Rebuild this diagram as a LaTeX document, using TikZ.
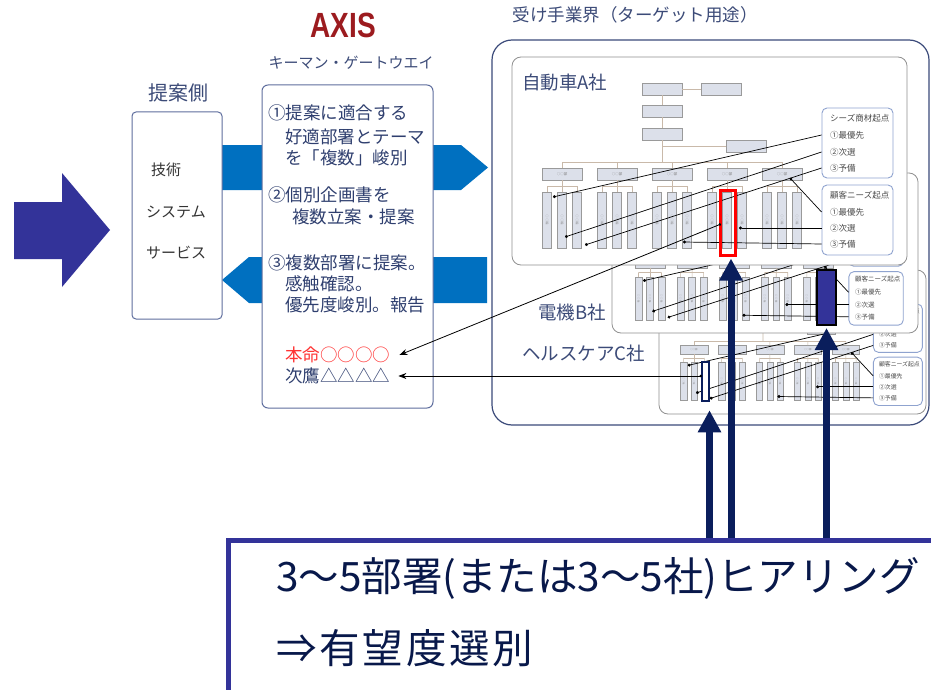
\documentclass[tikz,border=0pt]{standalone}
\usepackage{fontspec}
\setmainfont{Noto Sans CJK JP}
\newfontfamily\axisfont{Liberation Sans}
\usetikzlibrary{arrows.meta, positioning}

\definecolor{heavypurple}{HTML}{333399}
\definecolor{bandblue}{HTML}{0070C0}
\definecolor{axisred}{HTML}{9C1B1F}
\definecolor{slate}{HTML}{3C4B78}
\definecolor{steptxt}{HTML}{2F3F6F}
\definecolor{boxline}{HTML}{5F6E9E}
\definecolor{outerline}{HTML}{3B4A7A}
\definecolor{firmgray}{HTML}{909090}
\definecolor{orgfill}{HTML}{DCE0EA}
\definecolor{orggray}{HTML}{9A9A9A}
\definecolor{orgtan}{HTML}{C9B9A9}
\definecolor{legblue}{HTML}{8FA3CF}
\definecolor{leggray}{HTML}{4A4A4A}
\definecolor{navyarrow}{HTML}{0A1E5C}
\definecolor{honmeired}{HTML}{FF3333}

\tikzset{
  orgbox/.style={draw=orggray, fill=orgfill, minimum width=40pt, minimum height=12pt,
    inner sep=0pt, font=\fontsize{3.5}{4}\selectfont, text=gray},
  orgcol/.style={draw=orggray, fill=orgfill, minimum width=9pt, minimum height=56pt,
    inner sep=0pt, align=center, font=\fontsize{3}{3.6}\selectfont, text=gray},
  orgline/.style={draw=orgtan, line width=0.6pt},
  legbox/.style={draw=legblue, line width=0.9pt, rounded corners=5pt, fill=white,
    minimum width=71pt, minimum height=70pt},
  legtext/.style={anchor=west, inner sep=0pt, font=\fontsize{8.5}{9}\selectfont, text=leggray},
  pick/.style={line width=0.7pt, -{Circle[length=3pt]}},
  firmbox/.style={draw=firmgray, line width=0.8pt, fill=white, rounded corners=9pt},
  firmlabel/.style={anchor=west, inner sep=0pt, text=slate, font=\fontsize{18.5}{20}\selectfont},
  steptext/.style={anchor=west, inner sep=0pt, text=steptxt, font=\fontsize{17.5}{20}\selectfont},
  sidetext/.style={anchor=west, inner sep=0pt, text=black!80, font=\fontsize{15}{17}\selectfont},
  report/.style={line width=0.8pt, {Circle[length=2.5pt]}-{Stealth[length=8pt, width=6pt]}},
  bigarrow/.style={draw=navyarrow, line width=7pt, -{Triangle[length=22pt, width=22pt]}},
  hearingtext/.style={anchor=west, inner sep=0pt, text=navyarrow!80!black, font=\fontsize{40.5}{44}\selectfont}
}

% one organisation chart, local origin = first column top
\newcommand{\orgchart}[1]{%
  \node[orgbox] (#1board) at (100,-103) {};
  \node[orgbox] (#1audit) at (159.5,-103) {};
  \node[orgbox] (#1exec)  at (100,-81) {};
  \node[orgbox] (#1mgmt)  at (100,-58) {};
  \node[orgbox] (#1staff) at (184.5,-46) {};
  \draw[orgline] (#1board) -- (#1audit);
  \draw[orgline] (#1board) -- (#1exec);
  \draw[orgline] (#1exec) -- (#1mgmt);
  \draw[orgline] (#1mgmt) -- (100,-30);
  \draw[orgline] (#1staff.west) -- (#1staff.west -| #1mgmt.south);
  \draw[orgline] (0,-30) -- (220,-30);
  \foreach \ia in {1,...,5} {
    \pgfmathsetmacro\cx{55*(\ia-1)}
    \node[orgbox] (#1dept\ia) at (\cx,-18) {○○部};
    \draw[orgline] (\cx,-30) -- (#1dept\ia.north);
    \draw[orgline] (#1dept\ia.south) -- (\cx,-6);
    \draw[orgline] ({\cx-15},-6) -- ({\cx+15},-6);
    \foreach \ib in {1,2,3} {
      \node[orgcol] (#1col\ia\ib) at ({\cx+15*(\ib-2)},28) {○\\○\\部};
      \draw[orgline] ({\cx+15*(\ib-2)},-6) -- (#1col\ia\ib.north);
    }
  }
  % legends
  \node[legbox] (#1seeds) at (295.5,-49) {};
  \node[legtext] (#1s0) at (268,-74) {シーズ商材起点};
  \node[legtext] (#1s1) at (268,-57) {①最優先};
  \node[legtext] (#1s2) at (268,-40) {②次選};
  \node[legtext] (#1s3) at (268,-24) {③予備};
  \node[legbox] (#1needs) at (295.5,28) {};
  \node[legtext] (#1n0) at (268,3) {顧客ニーズ起点};
  \node[legtext] (#1n1) at (268,20) {①最優先};
  \node[legtext] (#1n2) at (268,36) {②次選};
  \node[legtext] (#1n3) at (268,52) {③予備};
  \coordinate (#1pickS1) at (-9,5);
  \coordinate (#1pickS2) at (3,45);
  \coordinate (#1pickS3) at (23,53);
  \coordinate (#1pickN1) at (228,-14);
  \coordinate (#1pickN2) at (177,36);
  \coordinate (#1pickN3) at (121,50);
  \foreach \ia in {1,2,3} {
    \draw[pick] (#1seeds.west |- #1s\ia) -- (#1pickS\ia);
    \draw[pick] (#1needs.west |- #1n\ia) -- (#1pickN\ia);
  }
}

\begin{document}
\begin{tikzpicture}[x=1pt, y=-1pt]
  \useasboundingbox[fill=white] (0,0) rectangle (931,690);

  % big arrow on the left
  \fill[heavypurple] (14,202) -- (62,202) -- (62,173) -- (110,230) -- (62,287)
    -- (62,259) -- (14,259) -- cycle;

  % blue bands between the boxes
  \fill[bandblue] (222,145) -- (461,145) -- (488,167.5) -- (461,190) -- (222,190) -- cycle;
  \fill[bandblue] (222,280) -- (249,257) -- (487,257) -- (487,303) -- (249,303) -- cycle;

  % proposer side
  \node[text=slate, font=\fontsize{20}{22}\selectfont] (sideTitle) at (178,93) {提案側};
  \node[draw=boxline, line width=1pt, rounded corners=4pt, fill=white,
    minimum width=90pt, minimum height=207pt] (side) at (177,215.5) {};
  \node[sidetext] (tech) at (151,170) {技術};
  \node[sidetext] (system) at (146,212) {システム};
  \node[sidetext] (service) at (146,253) {サービス};

  % AXIS box
  \node[text=axisred, font=\axisfont\bfseries\fontsize{35}{36}\selectfont, xscale=0.8] (axis) at (343,25) {AXIS};
  \node[text=slate, font=\fontsize{15}{17}\selectfont] (keyman) at (351,63) {キーマン・ゲートウエイ};
  \node[draw=boxline, line width=1pt, rounded corners=6pt, fill=white,
    minimum width=171pt, minimum height=323pt] (axisbox) at (347.5,246.5) {};
  \foreach \txt/\xx/\yy [count=\i] in {①提案に適合する/268/113, 好適部署とテーマ/285/137,
      を「複数」峻別/285/158, ②個別企画書を/268/195, 複数立案・提案/292/217,
      ③複数部署に提案。/268/263, 感触確認。/285/284, 優先度峻別。報告/285/305}
    \node[steptext] (plan\i) at (\xx,\yy) {\txt};
  \node[steptext, text=honmeired] (honmei) at (285,355) {本命○○○○};
  \node[steptext] (jitaka) at (285,376) {次鷹△△△△};

  % target industry
  \node[text=slate, font=\fontsize{17.5}{19}\selectfont] (target) at (635,15) {受け手業界（ターゲット用途）};
  \node[draw=outerline, line width=1.2pt, rounded corners=20pt,
    minimum width=437pt, minimum height=385pt] (industry) at (710.5,232.5) {};

  % company C
  \node[firmbox, minimum width=267pt, minimum height=144pt] (firmC) at (792.5,342) {};
  \begin{scope}[shift={(694,362)}, scale=0.69, transform shape]
    \orgchart{C}
  \end{scope}
  % company B
  \node[firmbox, minimum width=306pt, minimum height=160pt] (firmB) at (765,253) {};
  \begin{scope}[shift={(650,277)}, scale=0.765, transform shape]
    \orgchart{B}
  \end{scope}
  % company A
  \node[firmbox, minimum width=395pt, minimum height=208pt] (firmA) at (709.5,161) {};
  \begin{scope}[shift={(562,192)}]
    \orgchart{A}
  \end{scope}
  \node[firmlabel] (nameA) at (522,82) {自動車A社};
  \node[firmlabel] (nameB) at (538,312) {電機B社};
  \node[firmlabel] (nameC) at (522,353) {ヘルスケアC社};

  % picked departments
  \node[draw=red, line width=3pt, inner sep=0pt, minimum width=15pt, minimum height=65pt] (pickA) at (727.5,222.5) {};
  \node[draw=black, fill=heavypurple, line width=2pt, inner sep=0pt, minimum width=19pt, minimum height=55pt] (pickB) at (826.5,297.5) {};
  \node[draw=navyarrow, fill=white, line width=2.5pt, inner sep=0pt, minimum width=7pt, minimum height=39pt] (pickC) at (705.5,381.5) {};

  \coordinate (fromA) at (721,224);
  \coordinate (fromC) at (702,376);
  \draw[report] (fromA) -- ([xshift=9pt]honmei.east);
  \draw[report] (fromC) -- ([xshift=8pt]jitaka.east);

  % hearing box
  \node[draw=heavypurple, line width=5pt, fill=white, minimum width=717pt, minimum height=160pt] (hearing) at (586.5,620) {};
  \node[hearingtext] (hearing1) at (276,578) {3～5部署(または3～5社)ヒアリング};
  \node[hearingtext] (hearing2) at (276,648) {\addfontfeature{LetterSpace=7}⇒有望度選別};

  \draw[bigarrow] ([xshift=4pt]pickC.south |- hearing.north) -- ([xshift=4pt, yshift=-8pt]pickC.south);
  \draw[bigarrow] ([xshift=3.5pt]pickA.south |- hearing.north) -- ([xshift=3.5pt, yshift=-2pt]pickA.south);
  \draw[bigarrow] (pickB.south |- hearing.north) -- ([yshift=-2pt]pickB.south);
\end{tikzpicture}
\end{document}
